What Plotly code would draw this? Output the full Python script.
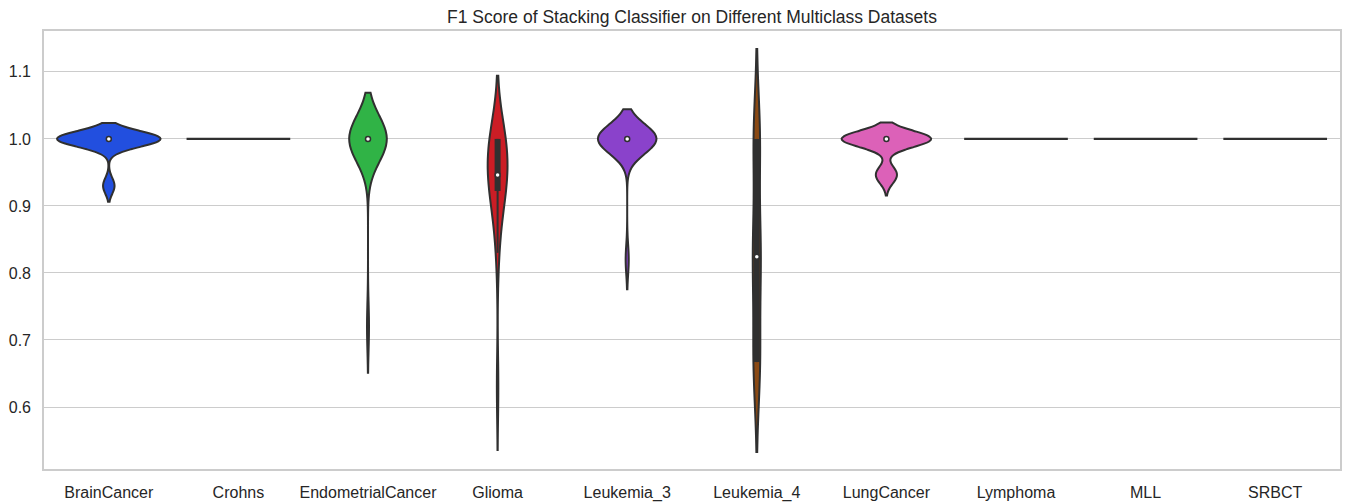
import colorsys
import numpy as np
import plotly.graph_objects as go

# ---------------- data ----------------
datasets = ["BrainCancer", "Crohns", "EndometrialCancer", "Glioma", "Leukemia_3",
            "Leukemia_4", "LungCancer", "Lymphoma", "MLL", "SRBCT"]

brain_cancer = [1.0, 1.0, 1.0, 0.93, 1.0, 1.0, 1.0, 1.0, 1.0, 1.0,
                1.0, 1.0, 1.0, 1.0, 0.93, 1.0, 1.0, 1.0, 1.0, 1.0]
crohns = [1.0, 1.0, 1.0, 1.0, 1.0, 1.0, 1.0, 1.0, 1.0, 1.0,
          1.0, 1.0, 1.0, 1.0, 1.0, 1.0, 1.0, 1.0, 1.0, 1.0]
endometrial_cancer = [1.0, 1.0, 1.0, 1.0, 1.0, 1.0, 0.72, 1.0, 1.0, 1.0,
                      1.0, 1.0, 1.0, 1.0, 1.0, 1.0, 1.0, 1.0, 1.0, 1.0]
glioma = [0.92, 1.0, 0.944, 0.83, 1.0, 0.96, 0.923, 0.63, 0.98, 1.0,
          0.935, 0.87, 1.0, 0.948, 0.9, 0.97, 1.0, 0.93, 0.94, 1.0]
leukemia_3 = [1.0, 1.0, 1.0, 1.0, 1.0, 1.0, 1.0, 1.0, 0.82, 1.0,
              1.0, 1.0, 1.0, 1.0, 1.0, 1.0, 1.0, 1.0, 1.0, 1.0]
leukemia_4 = [0.667, 1.0, 0.8, 0.667, 0.857, 1.0, 0.8, 0.667, 1.0, 0.8,
              0.848, 0.667, 1.0, 0.848, 0.667, 0.857, 1.0, 0.8, 0.667, 1.0,
              0.8, 0.667, 1.0, 0.8, 0.848, 1.0, 0.857, 0.667, 0.667, 1.0]
lung_cancer = [1.0, 1.0, 0.95, 1.0, 1.0, 1.0, 1.0, 0.94, 1.0, 1.0,
               1.0, 0.95, 1.0, 1.0, 1.0, 1.0, 0.945, 1.0, 1.0, 1.0]
lymphoma = [1.0, 1.0, 1.0, 1.0, 1.0, 1.0, 1.0, 1.0, 1.0, 1.0,
            1.0, 1.0, 1.0, 1.0, 1.0, 1.0, 1.0, 1.0, 1.0, 1.0]
mll = [1.0, 1.0, 1.0, 1.0, 1.0, 1.0, 1.0, 1.0, 1.0, 1.0,
       1.0, 1.0, 1.0, 1.0, 1.0, 1.0, 1.0, 1.0, 1.0, 1.0]
srbct = [1.0, 1.0, 1.0, 1.0, 1.0, 1.0, 1.0, 1.0, 1.0, 1.0,
         1.0, 1.0, 1.0, 1.0, 1.0, 1.0, 1.0, 1.0, 1.0, 1.0]

scores = [brain_cancer, crohns, endometrial_cancer, glioma, leukemia_3,
          leukemia_4, lung_cancer, lymphoma, mll, srbct]

y_ticks = [0.6, 0.7, 0.8, 0.9, 1.0, 1.1]
title_text = "F1 Score of Stacking Classifier on Different Multiclass Datasets"

# ---------------- style ----------------
bright = ["#023eff", "#ff7c00", "#1ac938", "#e8000b", "#8b2be2",
          "#9f4800", "#f14cc1", "#a3a3a3", "#ffc400", "#00d7ff"]
FONT = "Liberation Sans, Arial, sans-serif"
TEXT = "#262626"
SPINE = "#cccccc"
VIOLIN_SPAN = 0.8


def desaturate(hexc, prop=0.75):
    r, g, b = (int(hexc[i:i + 2], 16) / 255 for i in (1, 3, 5))
    h, l, s = colorsys.rgb_to_hls(r, g, b)
    r, g, b = colorsys.hls_to_rgb(h, l, s * prop)
    return (r, g, b)


cols = [desaturate(c) for c in bright]
lum = min(colorsys.rgb_to_hls(*c)[1] for c in cols) * 0.6
gv = int(round(lum * 255))
GRAY = f"rgb({gv},{gv},{gv})"
fills = [f"rgb({int(round(r*255))},{int(round(g*255))},{int(round(b*255))})" for r, g, b in cols]


def kde_info(vals):
    v = np.asarray(vals, float)
    n = len(v)
    sd = v.std(ddof=1)
    if sd == 0:
        return None
    bw = sd * n ** (-0.2)
    grid = np.linspace(v.min() - 2 * bw, v.max() + 2 * bw, 100)
    dens = np.exp(-0.5 * ((grid[:, None] - v[None, :]) / bw) ** 2).sum(1) / (n * bw * np.sqrt(2 * np.pi))
    return bw, dens.max()


infos = [kde_info(s) for s in scores]
max_peak = max(i[1] for i in infos if i is not None)

fig = go.Figure()
for idx, (vals, info) in enumerate(zip(scores, infos)):
    v = np.asarray(vals, float)
    if info is None:
        fig.add_trace(go.Scatter(
            x=[idx - VIOLIN_SPAN / 2, idx + VIOLIN_SPAN / 2], y=[v[0], v[0]],
            mode="lines", line=dict(color=GRAY, width=2.2),
            showlegend=False, hoverinfo="skip"))
        continue
    bw, peak = info
    fig.add_trace(go.Violin(
        y=v, x0=idx, width=VIOLIN_SPAN * peak / max_peak, bandwidth=bw,
        spanmode="soft", scalemode="width", side="both", points=False,
        fillcolor=fills[idx], line=dict(color=GRAY, width=2),
        box_visible=False, meanline_visible=False, showlegend=False,
        hoverinfo="skip", name=datasets[idx]))
    q1, med, q3 = np.percentile(v, [25, 50, 75])
    iqr = q3 - q1
    h1 = v[v >= q1 - 1.5 * iqr].min()
    h2 = v[v <= q3 + 1.5 * iqr].max()
    if h2 > h1:
        fig.add_trace(go.Scatter(x=[idx, idx], y=[h1, h2], mode="lines",
                                 line=dict(color=GRAY, width=2),
                                 showlegend=False, hoverinfo="skip"))
    if q3 > q1:
        fig.add_trace(go.Scatter(x=[idx, idx], y=[q1, q3], mode="lines",
                                 line=dict(color=GRAY, width=6),
                                 showlegend=False, hoverinfo="skip"))
    fig.add_trace(go.Scatter(x=[idx], y=[med], mode="markers",
                             marker=dict(color="white", size=5,
                                         line=dict(color=GRAY, width=1.5)),
                             showlegend=False, hoverinfo="skip"))

fig.update_layout(
    width=1348, height=502,
    margin=dict(l=44, r=8, t=31, b=33),
    paper_bgcolor="white", plot_bgcolor="white",
    font=dict(family=FONT, color=TEXT, size=16),
    title=dict(text=title_text, x=0.5, xref="paper", xanchor="center",
               y=1 - 17 / 502, yref="container", yanchor="middle",
               font=dict(family=FONT, color=TEXT, size=17.5)),
    xaxis=dict(range=[-0.5, len(datasets) - 0.5], automargin=False,
               tickmode="array", tickvals=list(range(len(datasets))), ticktext=datasets,
               showgrid=False, zeroline=False, showline=True, mirror=True,
               linecolor=SPINE, linewidth=1.6,
               ticks="outside", ticklen=8, tickcolor="rgba(0,0,0,0)",
               tickfont=dict(family=FONT, color=TEXT, size=16)),
    yaxis=dict(range=[0.5075, 1.161], automargin=False,
               tickmode="array", tickvals=y_ticks,
               ticktext=[f"{t:.1f}" for t in y_ticks],
               showgrid=True, gridcolor=SPINE, gridwidth=1.3,
               zeroline=False, showline=True, mirror=True,
               linecolor=SPINE, linewidth=1.6,
               ticks="outside", ticklen=8, tickcolor="rgba(0,0,0,0)",
               tickfont=dict(family=FONT, color=TEXT, size=16)),
)

fig.write_html("out.html")
